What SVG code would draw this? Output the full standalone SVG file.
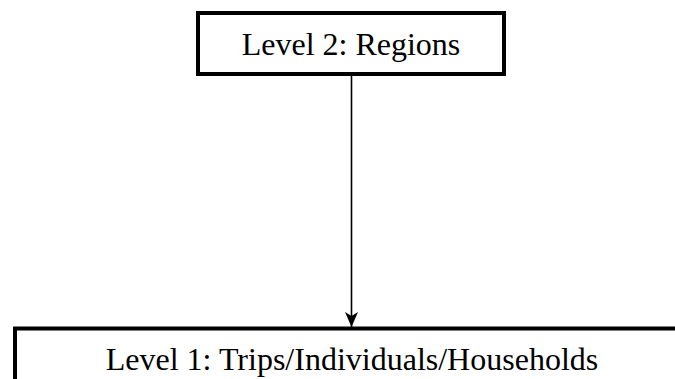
<svg xmlns="http://www.w3.org/2000/svg" width="675" height="379" viewBox="0 0 675 379">
  <style>
    .box { fill: #ffffff; stroke: #000000; stroke-width: 4; }
    .lbl { font-family: "Liberation Serif", "Times New Roman", serif; font-size: 32px; fill: #000000; text-anchor: middle; }
    .conn { stroke: #000000; stroke-width: 1.6; fill: none; }
  </style>
  <defs>
    <marker id="arrow" markerUnits="userSpaceOnUse" markerWidth="16" markerHeight="13" refX="15" refY="6.5" orient="auto" viewBox="0 0 16 13">
      <path d="M0,0 L15,6.5 L0,13 L4,6.5 Z" fill="#000000"/>
    </marker>
  </defs>
  <rect width="675" height="379" fill="#ffffff"/>
  <g id="connectors">
    <line class="conn" x1="351.5" y1="74" x2="351.5" y2="327" marker-end="url(#arrow)"/>
  </g>
  <g id="level2">
    <rect class="box" x="198" y="13" width="306" height="61"/>
    <text class="lbl" x="351" y="55">Level 2: Regions</text>
  </g>
  <g id="level1">
    <rect class="box" x="15" y="328.5" width="680" height="80"/>
    <text class="lbl" x="352" y="370">Level 1: Trips/Individuals/Households</text>
  </g>
</svg>
